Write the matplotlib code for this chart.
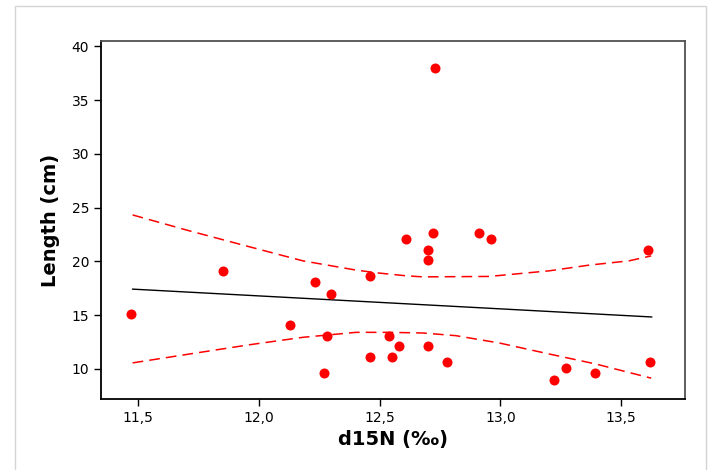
import numpy as np
import matplotlib
matplotlib.use('Agg')
import matplotlib.pyplot as plt
from matplotlib.patches import Rectangle
from matplotlib.ticker import FixedLocator, FuncFormatter

# d15N (per mille) and length (cm)
d15n = [11.47, 11.85, 12.13, 12.23, 12.27, 12.28, 12.30, 12.46, 12.46, 12.54,
        12.55, 12.58, 12.61, 12.70, 12.70, 12.70, 12.72, 12.73, 12.78, 12.91,
        12.96, 13.22, 13.27, 13.39, 13.61, 13.62]
length = [15.1, 19.1, 14.1, 18.1, 9.6, 13.1, 17.0, 18.6, 11.1, 13.1,
          11.1, 12.1, 22.1, 21.1, 20.1, 12.1, 22.6, 38.0, 10.6, 22.6,
          22.1, 9.0, 10.1, 9.6, 21.1, 10.6]

# fitted line (end points) as drawn in the reference
fit_x = [11.477, 13.626]
fit_y = [17.42, 14.83]

# 95% confidence band
upper_x = [11.477, 11.714, 11.962, 12.182, 12.402, 12.499, 12.609, 12.679,
           12.953, 13.201, 13.366, 13.532, 13.624]
upper_y = [24.32, 22.83, 21.35, 20.05, 19.19, 18.91, 18.66, 18.56,
           18.60, 19.12, 19.65, 20.05, 20.51]
lower_x = [11.477, 11.714, 11.962, 12.183, 12.402, 12.54, 12.679, 12.816,
           12.995, 13.201, 13.394, 13.624]
lower_y = [10.56, 11.39, 12.25, 12.94, 13.40, 13.40, 13.34, 13.09,
           12.41, 11.39, 10.46, 9.14]

xticks = [11.5, 12.0, 12.5, 13.0, 13.5]
yticks = [10, 15, 20, 25, 30, 35, 40]

fig = plt.figure(figsize=(7.2, 4.7), dpi=100)
fig.patches.append(Rectangle((15 / 720, -0.1), (706 - 15) / 720, 1.1 - 6 / 470,
                             transform=fig.transFigure, fill=False,
                             edgecolor='#d4d4d4', linewidth=1))
ax = fig.add_axes([101 / 720, 71 / 470, 584 / 720, 358 / 470])

ax.plot(fit_x, fit_y, color='black', linewidth=1)
ax.plot(upper_x, upper_y, color='red', linewidth=1.1, dashes=(7, 4))
ax.plot(lower_x, lower_y, color='red', linewidth=1.1, dashes=(7, 4))
ax.scatter(d15n, length, s=52, color='red', zorder=3, linewidths=0)

ax.set_xlim(11.346, 13.764)
ax.set_ylim(7.2, 40.5)
ax.xaxis.set_major_locator(FixedLocator(xticks))
ax.yaxis.set_major_locator(FixedLocator(yticks))
ax.xaxis.set_major_formatter(FuncFormatter(lambda v, p: f'{v:.1f}'.replace('.', ',')))

for side in ['top', 'right', 'bottom', 'left']:
    ax.spines[side].set_color('#505050')
    ax.spines[side].set_linewidth(1.3)
ax.spines['left'].set_color('black')
ax.spines['bottom'].set_color('black')
ax.tick_params(direction='out', length=5, width=1, colors='black', labelsize=10)

ax.set_xlabel('d15N (‰)', fontsize=14, fontweight='bold', labelpad=4)
ax.set_ylabel('Length (cm)', fontsize=14, fontweight='bold', labelpad=8)

fig.savefig('out.png', dpi=100)
